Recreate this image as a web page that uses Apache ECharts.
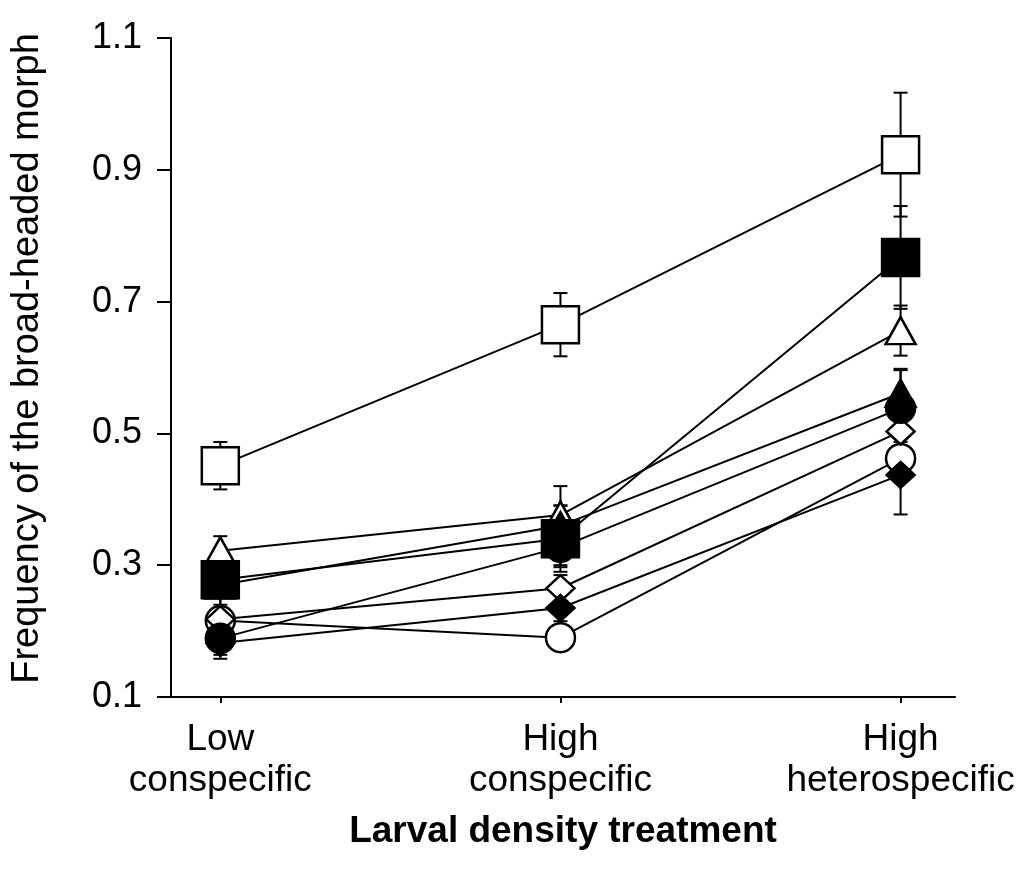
<!DOCTYPE html>
<html lang="en">
<head>
<meta charset="UTF-8">
<title>Larval density treatment</title>
<style type="text/css">
    *{
        margin: 0;
        padding: 0;
    }
    body{
        background-color: #fff;
    }
    .echarts{
        width: 1025px;
        height: 874px;
    }
</style>
</head>
<body>
    <div class="echarts"></div>

<script src="https://cdn.jsdelivr.net/npm/echarts@6/dist/echarts.min.js"></script>
<script type="text/javascript">
    // x 位置 0,1,2 对应三个处理
    var categories = ['Low\nconspecific', 'High\nconspecific', 'High\nheterospecific']
    var xPos = [0, 1, 2]
    var yTicks = [0.1, 0.3, 0.5, 0.7, 0.9, 1.1]

    // 均值
    var openSquare = [0.451, 0.665, 0.923]
    var filledSquare = [0.278, 0.340, 0.767]
    var openTriangle = [0.322, 0.376, 0.656]
    var filledTriangle = [0.270, 0.360, 0.561]
    var filledCircle = [0.189, 0.327, 0.538]
    var openDiamond = [0.218, 0.265, 0.503]
    var openCircle = [0.216, 0.190, 0.462]
    var filledDiamond = [0.182, 0.235, 0.437]

    // 误差 (SE)
    var openSquareSE = [0.036, 0.048, 0.094]
    var filledSquareSE = [0.043, 0.050, 0.078]
    var openTriangleSE = [0.022, 0.015, 0.038]
    var filledTriangleSE = [0.030, 0.060, 0.035]
    var filledCircleSE = [0.025, 0.030, 0.060]
    var openDiamondSE = [0.015, 0.020, 0.016]
    var openCircleSE = [0.012, 0.010, 0.030]
    var filledDiamondSE = [0.024, 0.020, 0.060]

    // 画的顺序: 后面的盖住前面的
    var groups = [
        {name: 'openSquare', mean: openSquare, se: openSquareSE, symbol: 'rect', size: 37, fill: '#fff'},
        {name: 'openTriangle', mean: openTriangle, se: openTriangleSE, symbol: 'triangle', size: [30, 27], fill: '#fff'},
        {name: 'filledTriangle', mean: filledTriangle, se: filledTriangleSE, symbol: 'triangle', size: [30, 27], fill: '#000'},
        {name: 'openCircle', mean: openCircle, se: openCircleSE, symbol: 'circle', size: 29, fill: '#fff'},
        {name: 'openDiamond', mean: openDiamond, se: openDiamondSE, symbol: 'diamond', size: [28, 26], fill: '#fff'},
        {name: 'filledDiamond', mean: filledDiamond, se: filledDiamondSE, symbol: 'diamond', size: [28, 26], fill: '#000'},
        {name: 'filledCircle', mean: filledCircle, se: filledCircleSE, symbol: 'circle', size: 29, fill: '#000'},
        {name: 'filledSquare', mean: filledSquare, se: filledSquareSE, symbol: 'rect', size: 37, fill: '#000'}
    ]

    var font = "'Liberation Sans', Arial, Helvetica, sans-serif"

    function errorBar(params, api) {
        var x = api.value(0)
        var top = api.coord([x, api.value(1) + api.value(2)])
        var bottom = api.coord([x, api.value(1) - api.value(2)])
        var cap = 7
        var style = {stroke: '#000', lineWidth: 2}
        return {
            type: 'group',
            children: [
                {type: 'line', shape: {x1: top[0], y1: top[1], x2: bottom[0], y2: bottom[1]}, style: style},
                {type: 'line', shape: {x1: top[0] - cap, y1: top[1], x2: top[0] + cap, y2: top[1]}, style: style},
                {type: 'line', shape: {x1: bottom[0] - cap, y1: bottom[1], x2: bottom[0] + cap, y2: bottom[1]}, style: style}
            ]
        }
    }

    var series = []
    // 连线
    groups.forEach(function (g) {
        series.push({
            name: g.name,
            type: 'line',
            data: xPos.map(function (x, i) { return [x, g.mean[i]] }),
            symbol: 'none',
            lineStyle: {color: '#000', width: 2},
            z: 2,
            silent: true
        })
    })
    // 误差线
    groups.forEach(function (g) {
        series.push({
            name: g.name + 'Err',
            type: 'custom',
            renderItem: errorBar,
            data: xPos.map(function (x, i) { return [x, g.mean[i], g.se[i]] }),
            z: 3,
            silent: true
        })
    })
    // 点
    groups.forEach(function (g, k) {
        series.push({
            name: g.name + 'Pt',
            type: 'scatter',
            data: xPos.map(function (x, i) { return [x, g.mean[i]] }),
            symbol: g.symbol,
            symbolSize: g.size,
            itemStyle: {color: g.fill, borderColor: '#000', borderWidth: 2.5, opacity: 1},
            z: 4 + k,
            silent: true
        })
    })

    var chart = echarts.init(document.querySelector('.echarts'))
    var options = {
        animation: false,
        backgroundColor: '#fff',
        grid: {left: 171, right: 70, top: 38, bottom: 177},
        xAxis: {
            type: 'value',
            min: -0.145,
            max: 2.16,
            name: 'Larval density treatment',
            nameLocation: 'middle',
            nameGap: 116,
            nameTextStyle: {fontFamily: font, fontSize: 37, fontWeight: 'bold', color: '#000'},
            splitLine: {show: false},
            axisLine: {onZero: false, lineStyle: {color: '#000', width: 2}},
            axisTick: {customValues: xPos, length: 6, lineStyle: {color: '#000', width: 2}},
            axisLabel: {
                customValues: xPos,
                margin: 22,
                fontFamily: font,
                fontSize: 37,
                lineHeight: 41,
                color: '#000',
                formatter: function (v) { return categories[Math.round(v)] }
            }
        },
        yAxis: {
            type: 'value',
            min: yTicks[0],
            max: yTicks[yTicks.length - 1],
            interval: 0.2,
            name: 'Frequency of the broad-headed morph',
            nameLocation: 'middle',
            nameGap: 124,
            nameTextStyle: {fontFamily: font, fontSize: 38, color: '#000', padding: [0, 0, 0, 18]},
            splitLine: {show: false},
            axisLine: {show: true, onZero: false, lineStyle: {color: '#000', width: 2}},
            axisTick: {show: true, length: 14, lineStyle: {color: '#000', width: 2}},
            axisLabel: {
                margin: 29,
                fontFamily: font,
                fontSize: 36,
                color: '#000',
                formatter: function (v) { return v.toFixed(1) }
            }
        },
        series: series
    }
    chart.setOption(options)
</script>
</body>
</html>
